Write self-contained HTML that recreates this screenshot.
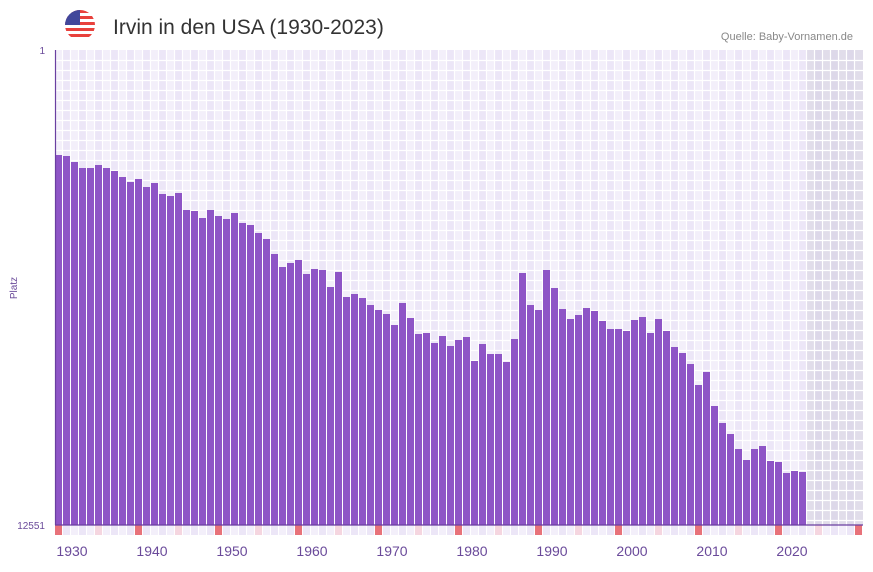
<!DOCTYPE html>
<html><head><meta charset="utf-8"><style>
body{margin:0;background:#fff;font-family:"Liberation Sans",sans-serif}
</style></head><body>
<svg width="873" height="567" xmlns="http://www.w3.org/2000/svg" font-family="Liberation Sans, sans-serif">
<defs>
<pattern id="cols" x="55" y="0" width="16" height="10" patternUnits="userSpaceOnUse">
<rect x="0" y="0" width="8" height="10" fill="#f3effa"/>
<rect x="8" y="0" width="8" height="10" fill="#ece6f7"/>
</pattern>
<clipPath id="fc"><circle cx="80" cy="25" r="15"/></clipPath>
</defs>
<!-- flag -->
<g clip-path="url(#fc)">
<rect x="65" y="10" width="30" height="30" fill="#fff"/>
<g fill="#e8413c"><rect x="65" y="10" width="30" height="3"/><rect x="65" y="16" width="30" height="3"/><rect x="65" y="22" width="30" height="3"/><rect x="65" y="28" width="30" height="3"/><rect x="65" y="34" width="30" height="3"/></g>
<rect x="65" y="10" width="15" height="15" fill="#41479b"/>
</g>
<text x="113" y="34" font-size="21" fill="#333">Irvin in den USA (1930-2023)</text>
<text x="853" y="40" font-size="11" fill="#888" text-anchor="end">Quelle: Baby-Vornamen.de</text>
<!-- plot bg -->
<rect x="55" y="50" width="808" height="475" fill="url(#cols)"/>
<rect x="807" y="50" width="56" height="475" fill="#ccc8d8" opacity="0.45"/>
<g id="grid" stroke="#fff" stroke-width="1.2"></g>
<g id="bars" fill="#8e55c6"></g>
<g id="strip"></g>
<line x1="55.5" y1="50" x2="55.5" y2="525" stroke="#6a3fa0" stroke-width="1.2"/>
<line x1="55" y1="525" x2="863" y2="525" stroke="#6a3fa0" stroke-width="1.2"/>
<text x="45" y="54" font-size="10" fill="#6a4a9a" text-anchor="end">1</text>
<text x="45" y="529" font-size="10" fill="#6a4a9a" text-anchor="end">12551</text>
<text transform="translate(17,288) rotate(-90)" font-size="10" fill="#6a4a9a" text-anchor="middle">Platz</text>
<g id="xl" font-size="14" fill="#6a4a9a" text-anchor="middle"></g>
</svg>
<script>
var tops=[155,156,162,168,168,165,168,171,177,182,179,187,183,194,196,193,210,211,218,210,216,219,213,223,225,233,239,254,267,263,260,274,269,270,287,272,297,294,298,305,310,314,325,303,318,334,333,343,336,346,340,337,361,344,354,354,362,339,273,305,310,270,288,309,319,315,308,311,321,329,329,331,320,317,333,319,331,347,353,364,385,372,406,423,434,449,460,449,446,461,462,473,471,472];
var ns="http://www.w3.org/2000/svg";
function el(p,t,a){var e=document.createElementNS(ns,t);for(var k in a)e.setAttribute(k,a[k]);p.appendChild(e);return e;}
var g=document.getElementById('grid');
for(var y=60.5;y<525;y+=10)el(g,'line',{x1:55,x2:863,y1:y,y2:y});
for(var k=1;k<101;k++){var x=55+8*k-0.5;el(g,'line',{x1:x,x2:x,y1:50,y2:525});}
var b=document.getElementById('bars');
tops.forEach(function(t,i){el(b,'rect',{x:55+8*i,y:t,width:7,height:525-t});});
var s=document.getElementById('strip');
for(var k=0;k<101;k++){var yr=1930+k,c;
 if(yr%10==0)c='#e8727a';else if(yr%5==0)c='#f5d6e0';else c=(k%2?'#ece6f7':'#f3effa');
 el(s,'rect',{x:55+8*k,y:525,width:7,height:10,fill:c});}
var xl=document.getElementById('xl');
for(var yr=1930;yr<=2020;yr+=10){var t=el(xl,'text',{x:55+8*(yr-1930)+17,y:556});t.textContent=yr;}
</script>
</body></html>
